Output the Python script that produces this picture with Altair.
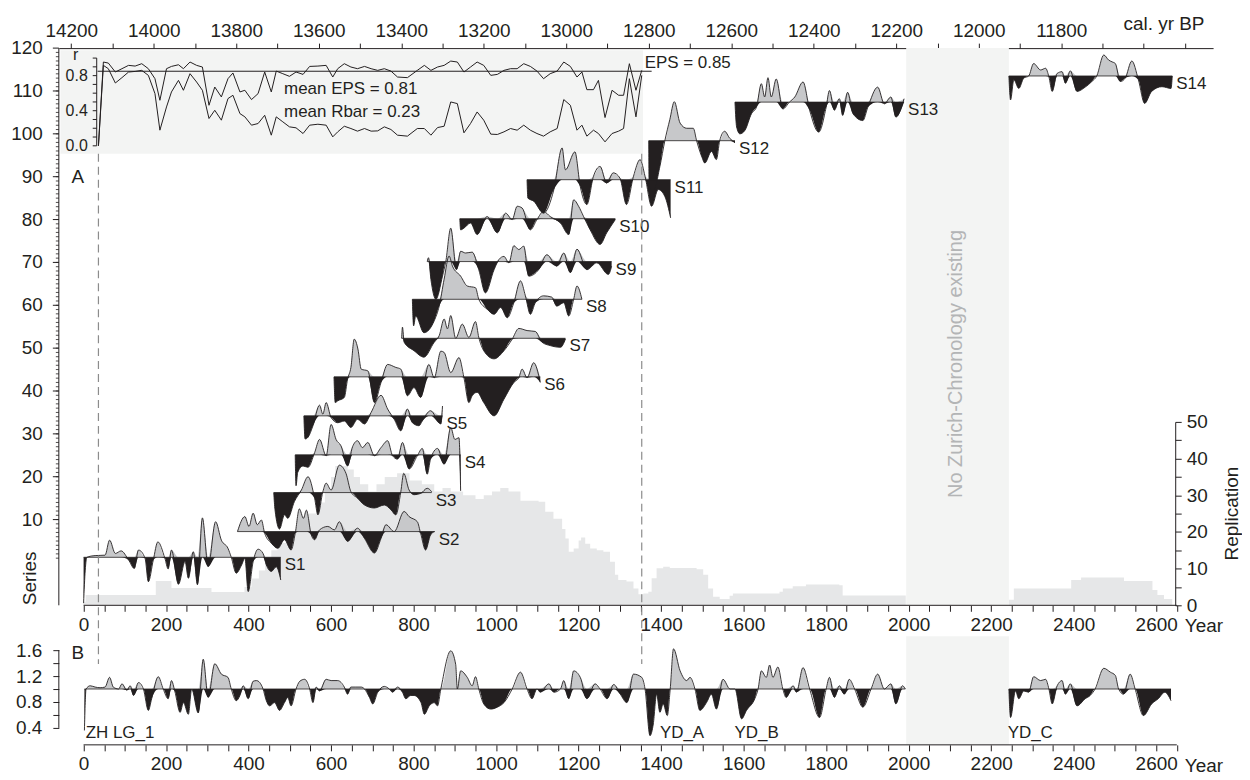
import altair as alt
import pandas as pd

FONT = "Liberation Sans"
INK = "#231f20"
POS_FILL = "#c7c8ca"
REP_FILL = "#e6e7e8"
BAND_FILL = "#f3f4f3"
DASH_INK = "#8c8c8c"
NOTE_INK = "#b3b5b6"

# ---------------- Panel A : individual series (year, deviation from own baseline) ----------------
SERIES_NAMES = ["S1", "S2", "S3", "S4", "S5", "S6", "S7", "S8", "S9", "S10", "S11", "S12", "S13", "S14"]
SERIES_BASE = [1.2, 7.2, 16.3, 25.1, 34.2, 43.3, 52.3, 61.4, 70.2, 80.2, 89.3, 98.4, 107.4, 113.5]

S1_YEAR = [0, 4, 8, 28, 52, 63, 77, 91, 109, 123, 133, 149, 157, 169, 180, 197, 205, 213, 230, 246,
           254, 266, 276, 288, 302, 320, 334, 350, 358, 370, 383, 391, 399, 411, 423, 435, 443, 455, 467, 478]
S1_DEV = [-10.7, -3, 0, 0.4, 0.5, 4.0, 0.9, 1.5, -0.6, -2.6, 1.7, -0.2, -5.7, -0.6, 3.6, -0.2, -2.7, 1.7, -6.3, -1.0,
          -4.9, 1.3, -6.4, 9.2, -2.2, 8.3, 4.0, 2.1, 0, -3.7, -1.8, -0.2, -8.0, -1.0, 1.9, 0.9, -1.8, -3.3, -2.2, -5.3]
S2_YEAR = [373, 391, 401, 411, 421, 431, 439, 455, 471, 487, 503, 513, 523, 533, 540, 552, 560, 572, 592, 608,
           620, 640, 664, 681, 705, 721, 733, 753, 777, 789, 809, 817, 829, 841, 851]
S2_DEV = [0, 3.5, 1.2, 4.3, 1.6, 2.7, -0.4, -2.7, -3.9, -1.9, -4.3, -0.4, 5.3, 3.1, 5.0, -0.8, -1.9, 0.4, 1.2, 0.4,
          2.3, -2.3, 0.8, -1.6, -5.0, -1.6, 1.6, 0, 4.7, 3.5, 2.3, -0.4, -4.3, -0.8, 0]
S3_YEAR = [461, 464, 475, 487, 495, 511, 528, 544, 560, 568, 580, 588, 600, 620, 636, 648, 664, 681, 705, 729,
           745, 757, 769, 776, 789, 801, 817, 833, 844]
S3_DEV = [0, -4.0, -8.5, -5.2, -6.0, -2.1, 0.6, 3.7, -1.3, -5.2, 0.2, 2.2, 0.6, 6.4, 4.5, 0.2, -1.3, -2.9, -3.6, -2.9,
          -4.0, -5.2, 0.2, 4.5, 0.6, -0.5, -0.2, 1.0, 0.2]
S4_YEAR = [513, 515, 519, 532, 544, 560, 572, 588, 600, 612, 624, 640, 652, 664, 676, 689, 705, 721, 737, 749,
           761, 773, 789, 809, 821, 833, 841, 858, 874, 890, 900, 910, 914]
S4_DEV = [0, -7.2, -4.1, -2.6, -2.9, 0.5, 3.6, -0.2, 7.1, 3.6, 2.1, -2.6, 1.9, 3.3, 1.7, 2.9, -0.2, 1.7, 3.3, -0.2,
          -1.0, 2.9, -3.3, -0.2, 1.5, -4.5, -1.0, 1.5, -2.2, 6.4, 3.6, 4.0, -8.4]
S5_YEAR = [534, 537, 544, 556, 572, 580, 588, 600, 616, 632, 648, 664, 681, 697, 721, 737, 753, 769, 785, 797,
           813, 821, 841, 866, 870]
S5_DEV = [0, -5.4, -5.0, -2.3, 2.5, 0.4, 3.1, -0.4, -1.6, -1.2, -2.7, -0.8, -1.9, 0.8, 4.8, 1.6, -0.8, -3.5, 1.6, -1.6,
          -2.3, -1.2, 1.2, -1.9, 2.3]
S6_YEAR = [607, 610, 616, 632, 640, 648, 656, 665, 673, 689, 705, 721, 737, 757, 769, 785, 801, 817, 837, 850,
           866, 874, 890, 910, 922, 934, 942, 954, 970, 995, 1019, 1043, 1055, 1063, 1075, 1091, 1107]
S6_DEV = [0, -6.0, -5.6, -4.8, -0.5, 2.2, 8.8, 6.5, 1.8, 1.4, -6.0, -1.3, 2.9, 2.2, 1.8, -4.4, -2.5, -4.8, 2.9, -0.2,
          6.0, 5.7, 1.0, 4.5, -0.2, -6.0, -4.4, -3.6, -6.0, -9.1, -5.2, -1.3, -0.2, 1.8, -0.2, 3.3, -1.3]
S7_YEAR = [771, 773, 777, 801, 825, 850, 862, 874, 882, 890, 902, 918, 934, 950, 958, 970, 995, 1019, 1039, 1055,
           1075, 1095, 1111, 1131, 1156, 1168]
S7_DEV = [0, 2.6, -0.9, -2.9, -4.4, -0.9, 0.6, 4.5, 2.2, 5.3, 0, 3.3, 0.2, 3.9, 0.2, -2.9, -4.8, -2.9, -0.2, 2.3,
          1.8, 1.6, -0.9, -1.7, -2.1, -0.2]
S8_YEAR = [797, 800, 805, 825, 850, 862, 874, 886, 894, 914, 930, 950, 958, 978, 995, 1011, 1027, 1043, 1059, 1071,
           1083, 1095, 1115, 1135, 1147, 1164, 1176, 1188, 1196, 1208]
S8_DEV = [0, -6.2, -3.9, -7.8, -5.0, -1.6, 4.7, 10.1, 7.8, 5.4, 3.1, 2.7, 0, -2.3, -3.5, -1.9, -4.3, -0.8, 4.3, 0.8,
          -3.5, -0.8, 0.8, 0.5, -1.6, -0.8, -3.9, 0, 3.1, 0]
S9_YEAR = [833, 836, 842, 854, 870, 878, 890, 904, 914, 926, 942, 958, 974, 995, 1007, 1019, 1031, 1043, 1055, 1067,
           1079, 1103, 1123, 1147, 1164, 1180, 1196, 1220, 1244, 1272, 1280]
S9_DEV = [0, 0.9, -4.2, -8.8, -3.4, 0, 7.8, -1.9, 2.4, 2.0, 2.2, -1.9, -7.3, -1.9, 0.5, 1.2, -0.3, 3.7, 2.8, 3.6,
          -3.4, -1.9, 1.6, -1.1, 2.0, -2.6, 2.9, -1.9, -0.3, -3.0, -1.1]
S10_YEAR = [912, 914, 922, 938, 954, 978, 1003, 1023, 1039, 1051, 1063, 1083, 1099, 1115, 1131, 1156, 1176, 1188, 1200, 1212,
            1228, 1252, 1268, 1289]
S10_DEV = [0, -2.6, -2.2, -1.0, -3.7, 0.5, -3.3, 1.3, -0.2, 2.9, 2.5, -2.6, -0.2, 1.7, 0.5, -1.0, -3.7, 4.4, 2.9, 0.5,
           -2.6, -6.0, -3.3, -0.2]
S11_YEAR = [1075, 1077, 1091, 1115, 1140, 1160, 1168, 1191, 1204, 1220, 1236, 1252, 1268, 1284, 1300, 1316, 1333, 1349, 1361, 1377,
            1393, 1409, 1423]
S11_DEV = [0, -4.3, -5.0, -7.8, -2.3, 7.4, 2.3, 6.5, -1.6, -5.8, 0.8, 3.1, -0.8, 1.6, 0.4, -5.8, 0.8, 4.7, 0.8, -6.2,
           -2.3, -3.9, -8.9]
S12_YEAR = [1370, 1371, 1381, 1397, 1409, 1421, 1432, 1446, 1462, 1478, 1486, 1498, 1506, 1522, 1534, 1542, 1554, 1566, 1579]
S12_DEV = [0, -10.6, -11.8, -6.0, 0, 4.9, 9.1, 4.1, 2.9, 2.9, 0, -3.6, -5.2, -2.5, -4.4, 0, 2.2, 0.6, -0.5]
S13_YEAR = [1579, 1583, 1591, 1603, 1619, 1631, 1643, 1651, 1659, 1667, 1679, 1695, 1711, 1724, 1744, 1760, 1782, 1800, 1808, 1820,
            1832, 1840, 1852, 1865, 1889, 1901, 1925, 1941, 1957, 1969, 1989]
S13_DEV = [0, -5.8, -7.4, -6.6, -2.7, -1.2, 4.3, 1.2, 5.7, 1.2, 5.4, -1.6, 0, 1.2, 4.7, -1.9, -7.0, -1.2, 2.7, -1.9,
           0.8, -3.1, 2.3, -2.7, -4.3, -1.2, 3.5, -0.4, 1.2, -3.5, 0.8]
S14_YEAR = [2243, 2247, 2255, 2267, 2279, 2291, 2303, 2320, 2332, 2340, 2348, 2360, 2372, 2380, 2392, 2408, 2428, 2444, 2456, 2473,
            2485, 2493, 2501, 2513, 2525, 2541, 2557, 2572, 2589, 2614, 2636, 2639]
S14_DEV = [0, -5.6, -0.9, -2.9, -0.5, 0, 2.9, 1.4, 1.8, -0.2, -3.6, 0.6, 1.0, -1.7, 1.2, -3.6, -2.6, -1.3, 0, 4.9,
           3.7, 3.3, 2.9, -1.3, -0.5, 3.5, -0.9, -6.4, -3.6, -2.5, -2.9, 0]

SERIES_YEARS = [S1_YEAR, S2_YEAR, S3_YEAR, S4_YEAR, S5_YEAR, S6_YEAR, S7_YEAR,
                S8_YEAR, S9_YEAR, S10_YEAR, S11_YEAR, S12_YEAR, S13_YEAR, S14_YEAR]
SERIES_DEVS = [S1_DEV, S2_DEV, S3_DEV, S4_DEV, S5_DEV, S6_DEV, S7_DEV,
               S8_DEV, S9_DEV, S10_DEV, S11_DEV, S12_DEV, S13_DEV, S14_DEV]

# replication (number of series), step values
REP_YEAR = [0, 5, 175, 213, 310, 390, 407, 425, 440, 455, 470, 490, 520, 545, 565, 585, 600, 610, 640, 655,
            670, 690, 710, 730, 760, 790, 820, 850, 870, 890, 920, 950, 970, 990, 1010, 1030, 1059, 1103, 1119, 1139,
            1160, 1168, 1176, 1188, 1200, 1206, 1216, 1228, 1244, 1260, 1276, 1288, 1296, 1316, 1333, 1345, 1357, 1369, 1377, 1389,
            1405, 1421, 1486, 1502, 1514, 1526, 1542, 1566, 1574, 1687, 1695, 1719, 1751, 1832, 1840, 1993, 2243, 2255, 2394, 2418,
            2522, 2591, 2603, 2619, 2639]
REP_VALUE = [1.0, 2.8, 6.6, 4.7, 3.6, 5.0, 7.3, 9.5, 12, 15, 17, 20, 22, 25, 28, 31, 35, 38, 37, 35,
             33, 31, 33, 35, 36, 34, 33, 31, 32, 31, 30, 29, 30, 31, 32, 31, 28.5, 28.2, 25.5, 23.6,
             20.8, 18.2, 14.6, 15.5, 17.7, 18.5, 16.8, 15.5, 15.0, 14.6, 11.9, 8.3, 6.9, 6.5, 4.6, 3.0, 3.2, 3.7, 7.4, 10.1,
             10.5, 10.2, 9.8, 8.3, 4.6, 2.3, 1.7, 2.6, 3.2, 3.7, 4.6, 5.2, 5.7, 5.5, 2.7, 0, 1.5, 4.6, 6.9, 7.6,
             6.6, 4.2, 2.8, 1.7, 0]

# inset: running EPS and Rbar
INSET_YEAR = [36, 48, 60, 77, 93, 109, 125, 141, 157, 173, 185, 201, 213, 230, 242, 258, 274, 288, 304, 318,
              334, 350, 362, 379, 391, 407, 423, 439, 455, 467, 483, 499, 515, 532, 548, 568, 588, 604, 616, 632,
              648, 664, 681, 697, 713, 729, 745, 761, 785, 809, 826, 842, 858, 874, 890, 906, 922, 938, 954, 970,
              987, 1003, 1019, 1035, 1051, 1067, 1083, 1099, 1115, 1131, 1148, 1164, 1180, 1196, 1208, 1220, 1236, 1248, 1264, 1281,
              1297, 1309, 1323, 1339, 1353]
EPS_VALUE = [0, 0.955, 0.943, 0.841, 0.879, 0.917, 0.909, 0.936, 0.879, 0.765, 0.519, 0.879, 0.905, 0.924, 0.879, 0.955, 0.917, 0.898, 0.462, 0.670,
             0.557, 0.765, 0.830, 0.614, 0.633, 0.527, 0.595, 0.841, 0.614, 0.852, 0.822, 0.792, 0.841, 0.814, 0.905, 0.909, 0.917, 0.784, 0.879, 0.936,
             0.898, 0.879, 0.905, 0.879, 0.860, 0.879, 0.852, 0.784, 0.777, 0.860, 0.917, 0.860, 0.898, 0.917, 0.966, 0.955, 0.841, 0.898, 0.955, 0.917,
             0.803, 0.814, 0.860, 0.879, 0.879, 0.936, 0.905, 0.852, 0.765, 0.822, 0.852, 0.955, 0.905, 0.784, 0.841, 0.640, 0.640, 0.746, 0.322, 0.633,
             0.576, 0.576, 0.936, 0.633, 0.860]
RBAR_VALUE = [0, 0.917, 0.879, 0.716, 0.777, 0.841, 0.848, 0.860, 0.803, 0.595, 0.178, 0.443, 0.614, 0.746, 0.633, 0.822, 0.727, 0.633, 0.311, 0.405,
              0.292, 0.538, 0.576, 0.367, 0.330, 0.235, 0.254, 0.348, 0.121, 0.330, 0.273, 0.216, 0.205, 0.140, 0.235, 0.246, 0.235, 0.102, 0.159, 0.223,
              0.197, 0.167, 0.197, 0.167, 0.170, 0.216, 0.186, 0.121, 0.110, 0.197, 0.197, 0.121, 0.208, 0.223, 0.500, 0.481, 0.148, 0.254, 0.386, 0.292,
              0.133, 0.129, 0.159, 0.197, 0.178, 0.235, 0.178, 0.140, 0.110, 0.159, 0.197, 0.527, 0.462, 0.178, 0.235, 0.110, 0.178, 0.140, 0.045, 0.140,
              0.167, 0.197, 0.765, 0.330, 0.803]
EPS_THRESHOLD = 0.85
EPS_LINE_YEARS = [34, 1377]
INSET_BOX_YEARS = [-56, 1356]
INSET_BOX_SERIES = [95.35, 119.5]
INSET_TEXT = ["EPS = 0.85", "mean EPS = 0.81", "mean Rbar = 0.23"]
INSET_TEXT_YEAR = [1360, 486, 486]
INSET_TEXT_R = [0.945, 0.644, 0.39]

DASH_YEARS = [36, 1353]
GAP_YEARS = [1994, 2243]
BP_OFFSET = 14170  # cal. yr BP = 14170 - year

# ---------------- Panel B : chronologies ----------------
B_YEAR_1 = [2, 6, 16, 28, 40, 52, 63, 72, 85, 93,
            105, 113, 121, 133, 145, 157, 165, 181, 193, 205,
            213, 221, 234, 242, 254, 262, 278, 290, 302, 318,
            334, 350, 358, 370, 379, 387, 399, 411, 419, 427,
            435, 443, 451, 463, 475, 487, 495, 503, 515, 524,
            536, 548, 556, 564, 572, 588, 600, 616, 632, 640,
            648, 660, 673, 681, 693, 701, 713, 729, 741, 749,
            761, 773, 781, 793, 801, 818, 826, 838, 850, 858,
            866, 890, 902, 906, 914, 930, 942, 950, 958, 970,
            987, 1003, 1019, 1039, 1059, 1075, 1087, 1099, 1107, 1128,
            1140, 1156, 1164, 1176, 1188, 1204, 1220, 1240, 1252, 1269,
            1285, 1301, 1317, 1333, 1353, 1361, 1373, 1381, 1389, 1397,
            1405, 1415, 1422, 1430, 1446, 1462, 1470, 1482, 1494, 1510,
            1522, 1534, 1550, 1567, 1579, 1595, 1607, 1627, 1635, 1643,
            1655, 1663, 1671, 1683, 1695, 1703, 1720, 1728, 1744, 1760,
            1784, 1800, 1808, 1820, 1832, 1844, 1856, 1869, 1889, 1909,
            1925, 1941, 1957, 1969, 1985, 1992]
B_IDX_1 = [0.36, 1.0, 1.05, 1.03, 1.02, 1.03, 1.18, 1.03, 1.0, 1.08,
           0.98, 1.05, 0.9, 1.10, 1.0, 0.67, 0.85, 1.19, 1.0, 0.85,
           1.13, 0.97, 0.64, 0.79, 0.61, 1.0, 0.63, 1.46, 0.87, 1.39,
           1.23, 1.18, 1.0, 0.82, 0.90, 1.05, 0.85, 1.12, 1.13, 1.10,
           1.0, 0.82, 0.74, 0.79, 0.67, 0.79, 0.87, 0.74, 1.0, 1.12,
           1.15, 1.0, 0.79, 1.03, 0.97, 1.15, 1.13, 1.13, 1.03, 0.92,
           1.03, 1.03, 1.03, 1.0, 0.87, 0.77, 0.95, 1.04, 1.0, 0.95,
           1.03, 0.95, 0.85, 0.90, 0.90, 0.79, 0.61, 0.74, 0.79, 0.74,
           1.0, 1.59, 1.38, 1.0, 1.28, 1.18, 1.05, 1.19, 1.0, 0.77,
           0.69, 0.72, 0.79, 1.0, 1.26, 1.0, 0.85, 1.0, 0.95, 1.08,
           0.95, 1.0, 1.13, 0.85, 1.28, 1.18, 0.85, 1.08, 1.0, 0.85,
           1.07, 0.92, 0.79, 1.23, 1.18, 1.0, 0.28, 0.46, 0.92, 0.64,
           0.77, 0.59, 1.0, 1.62, 1.28, 1.13, 1.18, 1.0, 0.67, 0.79,
           0.92, 0.69, 1.15, 1.0, 1.0, 0.54, 0.67, 0.85, 1.0, 1.28,
           1.18, 1.37, 1.18, 1.34, 1.0, 0.87, 1.05, 0.95, 1.33, 1.0,
           0.56, 1.0, 1.18, 0.87, 1.05, 0.92, 1.15, 1.0, 0.72, 1.0,
           1.23, 1.0, 1.08, 0.77, 1.05, 1.0]
B_YEAR_2 = [2243, 2247, 2259, 2267, 2279, 2291, 2303, 2320, 2332, 2340,
            2348, 2360, 2372, 2380, 2392, 2408, 2428, 2440, 2452, 2473,
            2489, 2501, 2509, 2521, 2537, 2549, 2569, 2589, 2605, 2621, 2636]
B_IDX_2 = [1.0, 0.56, 0.97, 0.85, 0.97, 0.95, 1.19, 1.13, 1.15, 1.0,
           0.77, 1.05, 1.13, 0.92, 1.08, 0.74, 0.85, 0.90, 1.0, 1.32,
           1.26, 1.21, 1.0, 0.92, 1.23, 1.0, 0.59, 0.77, 0.85, 0.95, 0.82]
CHRON_LABELS = ["ZH LG_1", "YD_A", "YD_B", "YD_C"]
CHRON_LABEL_YEAR = [5, 1397, 1578, 2240]
CHRON_LABEL_IDX = 0.315

# ticks
YEAR_TICKS = list(range(0, 2651, 50))
AXIS_SPAN = [0, 2650]
BP_TICKS = list(range(14200, 11499, -100))
SERIES_TICKS = list(range(10, 121, 10))
SERIES_MINOR = list(range(1, 120))
SERIES_AXIS_SPAN = [-10, 120]
REP_TICKS = list(range(0, 51, 5))
R_TICKS = [0.0, 0.1, 0.2, 0.3, 0.4, 0.5, 0.6, 0.7, 0.8, 0.9, 1.0]
R_LABELS = [0.0, 0.4, 0.8]
R_AXIS_SPAN = [0.0, 1.0]
B_TICKS = [0.4, 0.6, 0.8, 1.0, 1.2, 1.4, 1.6]
B_AXIS_SPAN = [0.4, 1.6]

# ---------------- layout ----------------
W, HA, HB = 1158, 559, 109
xs = alt.Scale(domain=[-60, 2738], nice=False, zero=False)
ysA = alt.Scale(domain=[-10, 120], nice=False, zero=False)
ysB = alt.Scale(domain=[0.138, 1.815], nice=False, zero=False)
rep_scale = alt.Scale(domain=[0, 50], range=[HA, HA - 184], nice=False, zero=False)
r_scale = alt.Scale(domain=[0, 1], range=[98, 10], nice=False, zero=False)
bp_scale = alt.Scale(domain=[BP_OFFSET - 2738, BP_OFFSET + 60], reverse=True, nice=False, zero=False)

bottom_axis = alt.Axis(orient="bottom", values=YEAR_TICKS, domain=False, tickSize=6, labelPadding=4,
                       labelExpr="datum.value % 200 == 0 ? format(datum.value, 'd') : ''", title=None)
left_axis_B = alt.Axis(orient="left", values=B_TICKS, domain=False, tickSize=6, labelPadding=11, title=None,
                       labelExpr="indexof([4, 8, 12, 16], round(datum.value*10)) >= 0 ? format(datum.value, '.1f') : ''")


def XA(field="year"):
    # x in layers sharing the visible year axis
    return alt.X(f"{field}:Q", scale=xs, axis=bottom_axis)


def XN(field="year"):
    # x in layers whose own year scale has no axis
    return alt.X(f"{field}:Q", scale=xs, axis=None)


def YA(field):
    return alt.Y(f"{field}:Q", scale=ysA, axis=None)


def YR(field):
    return alt.Y(f"{field}:Q", scale=r_scale, axis=None)


def YB(field):
    return alt.Y(f"{field}:Q", scale=ysB, axis=left_axis_B)


# ---------- data frames ----------
rows = []
spans = []
for name, base, yrs, devs in zip(SERIES_NAMES, SERIES_BASE, SERIES_YEARS, SERIES_DEVS):
    for yr, d in zip(yrs, devs):
        rows.append({"series": name, "year": yr, "v": round(base + d, 3), "base": base})
    spans.append({"series": name, "start": yrs[0], "end": yrs[-1], "base": base})
ser = pd.DataFrame(rows)
span_df = pd.DataFrame(spans)

rep_df = pd.DataFrame({"year": REP_YEAR, "rep": REP_VALUE})
inset_df = pd.DataFrame(
    [{"year": y, "r": e, "kind": "EPS"} for y, e in zip(INSET_YEAR, EPS_VALUE)]
    + [{"year": y, "r": r, "kind": "Rbar"} for y, r in zip(INSET_YEAR, RBAR_VALUE)]
)

# ---------- Panel A ----------
band_A = alt.Chart(pd.DataFrame({"x0": [GAP_YEARS[0]], "x1": [GAP_YEARS[1]]})).mark_rect(color=BAND_FILL).encode(
    x=XN("x0"), x2="x1:Q", y=alt.value(0), y2=alt.value(HA))

rep_layer = alt.Chart(rep_df).mark_area(color=REP_FILL, interpolate="step-after").encode(
    x=XN(),
    y=alt.Y("rep:Q", scale=rep_scale,
            axis=alt.Axis(orient="right", offset=-38, values=REP_TICKS, tickSize=6, labelPadding=5,
                          labelExpr="datum.value % 10 == 0 ? format(datum.value, 'd') : ''", title=None)))

inset_bg = alt.Chart(pd.DataFrame({"x0": [INSET_BOX_YEARS[0]], "x1": [INSET_BOX_YEARS[1]],
                                   "y0": [INSET_BOX_SERIES[0]], "y1": [INSET_BOX_SERIES[1]]})).mark_rect(color=BAND_FILL).encode(
    x=XA("x0"), x2="x1:Q", y=YA("y0"), y2="y1:Q")

gray_A = alt.Chart(ser).transform_calculate(hi="max(datum.v, datum.base)").mark_area(
    color=POS_FILL, interpolate="monotone").encode(x=XA(), y=YA("hi"), y2="base:Q", detail="series:N")
black_A = alt.Chart(ser).transform_calculate(lo="min(datum.v, datum.base)").mark_area(
    color=INK, interpolate="monotone").encode(x=XA(), y=YA("lo"), y2="base:Q", detail="series:N")
base_A = alt.Chart(span_df).mark_rule(color=INK, strokeWidth=0.8).encode(x=XA("start"), x2="end:Q", y=YA("base"))
line_A = alt.Chart(ser).mark_line(color=INK, strokeWidth=0.9, interpolate="monotone").encode(
    x=XA(), y=YA("v"), detail="series:N")
label_A = alt.Chart(span_df).mark_text(align="left", baseline="middle", dx=4, dy=8, fontSize=17).encode(
    x=XA("end"), y=YA("base"), text="series:N")

dash_A = alt.Chart(pd.DataFrame({"year": DASH_YEARS})).mark_rule(
    color=DASH_INK, strokeDash=[8, 5], strokeWidth=1.2).encode(x=XA(), y=alt.value(106), y2=alt.value(618))

panel_A = alt.Chart(pd.DataFrame({"text": ["A"], "year": [-29], "s": [90]})).mark_text(
    align="left", baseline="middle", fontSize=19).encode(x=XA(), y=YA("s"), text="text:N")
gap_note = alt.Chart(pd.DataFrame({"text": ["No Zurich-Chronology existing"], "year": [2114], "s": [46.3]})).mark_text(
    angle=270, align="center", baseline="middle", fontSize=20, color=NOTE_INK).encode(x=XA(), y=YA("s"), text="text:N")
series_title = alt.Chart(pd.DataFrame({"text": ["Series"]})).mark_text(
    angle=270, align="center", baseline="middle", fontSize=19).encode(
    x=alt.value(-29), y=alt.value(532), text="text:N")
rep_title = alt.Chart(pd.DataFrame({"text": ["Replication"]})).mark_text(
    angle=270, align="center", baseline="middle", fontSize=19).encode(
    x=alt.value(W - 38 + 57), y=alt.value(HA - 92), text="text:N")
year_A = alt.Chart(pd.DataFrame({"text": ["Year"], "year": [AXIS_SPAN[1]]})).mark_text(
    align="left", baseline="middle", fontSize=19, dx=8).encode(x=XA(), y=alt.value(HA + 21), text="text:N")
calbp = alt.Chart(pd.DataFrame({"text": ["cal. yr BP"], "year": [2619]})).mark_text(
    align="center", baseline="middle", fontSize=19).encode(x=XA(), y=alt.value(-24), text="text:N")

# left "Series" axis drawn on the series scale
s_domain = alt.Chart(pd.DataFrame({"y0": [SERIES_AXIS_SPAN[0]], "y1": [SERIES_AXIS_SPAN[1]]})).mark_rule(
    color=INK, strokeWidth=1).encode(x=alt.value(0), y=YA("y0"), y2="y1:Q")
s_minor = alt.Chart(pd.DataFrame({"t": SERIES_MINOR})).mark_rule(color=INK, strokeWidth=0.8).encode(
    x=alt.value(-3), x2=alt.value(0), y=YA("t"))
s_major = alt.Chart(pd.DataFrame({"t": SERIES_TICKS})).mark_rule(color=INK, strokeWidth=1).encode(
    x=alt.value(-6), x2=alt.value(0), y=YA("t"))
s_labels = alt.Chart(pd.DataFrame({"t": SERIES_TICKS, "lab": [str(t) for t in SERIES_TICKS]})).mark_text(
    align="right", baseline="middle", fontSize=19).encode(x=alt.value(-16), y=YA("t"), text="lab:N")
domain_A = alt.Chart(pd.DataFrame({"x0": [AXIS_SPAN[0]], "x1": [AXIS_SPAN[1]]})).mark_rule(color=INK).encode(
    x=XA("x0"), x2="x1:Q", y=alt.value(HA))

main_A = alt.layer(domain_A, inset_bg, gray_A, black_A, base_A, line_A, label_A, dash_A,
                   panel_A, gap_note, series_title, rep_title, year_A, calbp,
                   s_domain, s_minor, s_major, s_labels)

# inset (EPS / Rbar) on its own r scale
inset_lines = alt.Chart(inset_df).mark_line(color=INK, strokeWidth=1).encode(
    x=XN(), y=YR("r"), detail="kind:N")
thr = alt.Chart(pd.DataFrame({"x0": [EPS_LINE_YEARS[0]], "x1": [EPS_LINE_YEARS[1]], "r": [EPS_THRESHOLD]})).mark_rule(
    color=INK, strokeWidth=1).encode(x=XN("x0"), x2="x1:Q", y=YR("r"))
inset_txt = alt.Chart(pd.DataFrame({"text": INSET_TEXT, "year": INSET_TEXT_YEAR, "r": INSET_TEXT_R})).mark_text(
    align="left", baseline="middle", fontSize=17).encode(x=XN(), y=YR("r"), text="text:N")
r_title = alt.Chart(pd.DataFrame({"text": ["r"], "year": [-19], "r": [1.03]})).mark_text(
    align="center", baseline="middle", fontSize=16).encode(x=XN(), y=YR("r"), text="text:N")
r_domain = alt.Chart(pd.DataFrame({"y0": [R_AXIS_SPAN[0]], "y1": [R_AXIS_SPAN[1]]})).mark_rule(
    color=INK, strokeWidth=1).encode(x=alt.value(38), y=YR("y0"), y2="y1:Q")
r_ticks = alt.Chart(pd.DataFrame({"t": R_TICKS})).mark_rule(color=INK, strokeWidth=1).encode(
    x=alt.value(34), x2=alt.value(38), y=YR("t"))
r_labels = alt.Chart(pd.DataFrame({"t": R_LABELS, "lab": [f"{t:.1f}" for t in R_LABELS]})).mark_text(
    align="right", baseline="middle", fontSize=16).encode(x=alt.value(29), y=YR("t"), text="lab:N")
inset_A = alt.layer(inset_lines, thr, inset_txt, r_title, r_domain, r_ticks, r_labels)

top_axis = alt.Chart(pd.DataFrame({"bp": BP_TICKS})).mark_point(opacity=0).encode(
    x=alt.X("bp:Q", scale=bp_scale,
            axis=alt.Axis(orient="top", values=BP_TICKS, tickSize=5, labelPadding=3, title=None,
                          labelExpr="datum.value % 200 == 0 && datum.value != 11600 ? format(datum.value, 'd') : ''")))

A = alt.layer(band_A, rep_layer, main_A, inset_A, top_axis).resolve_scale(
    x="independent", y="independent").properties(width=W, height=HA)

# ---------- Panel B ----------
chron = pd.DataFrame(
    [{"seg": "a", "year": y, "idx": v} for y, v in zip(B_YEAR_1, B_IDX_1)]
    + [{"seg": "c", "year": y, "idx": v} for y, v in zip(B_YEAR_2, B_IDX_2)]
)
chron_span = pd.DataFrame({"start": [B_YEAR_1[0], B_YEAR_2[0]], "end": [B_YEAR_1[-1], B_YEAR_2[-1]], "one": [1.0, 1.0]})

band_B = alt.Chart(pd.DataFrame({"x0": [GAP_YEARS[0]], "x1": [GAP_YEARS[1]]})).mark_rect(color=BAND_FILL).encode(
    x=XA("x0"), x2="x1:Q", y=alt.value(0), y2=alt.value(HB))
gray_B = alt.Chart(chron).transform_calculate(hi="max(datum.idx, 1)", one="1").mark_area(
    color=POS_FILL, interpolate="monotone").encode(x=XA(), y=YB("hi"), y2="one:Q", detail="seg:N")
black_B = alt.Chart(chron).transform_calculate(lo="min(datum.idx, 1)", one="1").mark_area(
    color=INK, interpolate="monotone").encode(x=XA(), y=YB("lo"), y2="one:Q", detail="seg:N")
base_B = alt.Chart(chron_span).mark_rule(color=INK, strokeWidth=0.8).encode(x=XA("start"), x2="end:Q", y=YB("one"))
line_B = alt.Chart(chron).mark_line(color=INK, strokeWidth=0.9, interpolate="monotone").encode(
    x=XA(), y=YB("idx"), detail="seg:N")
label_B = alt.Chart(pd.DataFrame({"text": CHRON_LABELS, "year": CHRON_LABEL_YEAR,
                                  "idx": [CHRON_LABEL_IDX] * len(CHRON_LABELS)})).mark_text(
    align="left", baseline="middle", fontSize=17).encode(x=XA(), y=YB("idx"), text="text:N")
panel_B = alt.Chart(pd.DataFrame({"text": ["B"], "year": [-29], "idx": [1.55]})).mark_text(
    align="left", baseline="middle", fontSize=19).encode(x=XA(), y=YB("idx"), text="text:N")
year_B = alt.Chart(pd.DataFrame({"text": ["Year"], "year": [AXIS_SPAN[1]]})).mark_text(
    align="left", baseline="middle", fontSize=19, dx=8).encode(x=XA(), y=alt.value(HB + 21), text="text:N")
left_B = alt.Chart(pd.DataFrame({"y0": [B_AXIS_SPAN[0]], "y1": [B_AXIS_SPAN[1]]})).mark_rule(color=INK).encode(
    x=alt.value(0), y=YB("y0"), y2="y1:Q")
domain_B = alt.Chart(pd.DataFrame({"x0": [AXIS_SPAN[0]], "x1": [AXIS_SPAN[1]]})).mark_rule(color=INK).encode(
    x=XA("x0"), x2="x1:Q", y=alt.value(HB))

B = alt.layer(band_B, gray_B, black_B, base_B, line_B, label_B, panel_B, year_B, left_B, domain_B).properties(
    width=W, height=HB)

chart = alt.vconcat(A, B, spacing=31, bounds="flush").properties(
    padding={"left": 3, "top": 6, "right": 0, "bottom": 0}, background="white"
).configure_axis(
    labelFont=FONT, titleFont=FONT, labelFontSize=19, titleFontSize=19, titleFontWeight="normal",
    labelColor=INK, titleColor=INK, tickColor=INK, domainColor=INK, grid=False,
    labelFlush=False, labelOverlap=False
).configure_text(font=FONT, color=INK).configure_view(stroke=None)

chart.save("out.html", embed_options={"renderer": "svg", "actions": False})
